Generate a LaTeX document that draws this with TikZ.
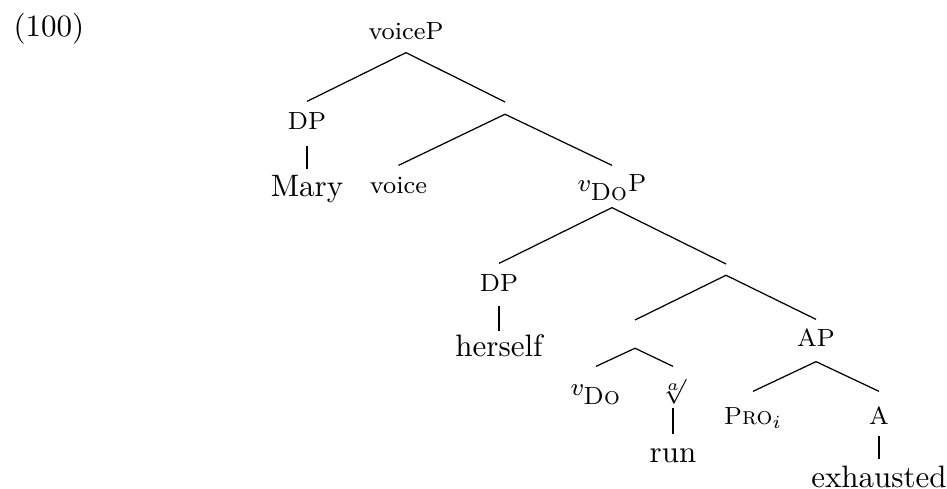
\documentclass[tikz,border=0pt]{standalone}
\begin{document}
\begin{tikzpicture}[x=0.3226pt,y=-0.3226pt,
  lab/.style={font=\footnotesize, anchor=base, inner sep=0pt, text height=9.03pt, text depth=4.52pt},
  word/.style={anchor=base, inner sep=0pt, text height=8.71pt, text depth=0pt},
  barnode/.style={anchor=north, inner sep=0pt, minimum width=0pt},
  edge/.style={line width=0.4pt}]
\useasboundingbox (0,0) rectangle (947,489);
\node[anchor=base west, inner sep=0pt] (ex) at (13,37) {(100)};
% nodes
\node[lab, text depth=3.87pt] (voiceP) at (406,40) {voiceP};
\node[lab, text depth=4.84pt] (dp1) at (307,130) {DP};
\node[word] (mary) at (307,197) {Mary};
\node[barnode, minimum height=3.55pt] (b1) at (505,102) {};
\node[lab] (voice) at (398.5,194) {voice};
\node[lab, text height=8.39pt, text depth=4.84pt] (vdop) at (612,192) {$v_{\textsc{Do}}$P};
\node[lab, text depth=4.19pt] (dp2) at (499,292) {DP};
\node[word, text height=8.07pt] (herself) at (499,357) {herself};
\node[barnode, minimum height=3.23pt] (b2) at (726,264) {};
\node[barnode, minimum height=8.71pt] (b3) at (635,320) {};
\node[lab, text height=8.71pt] (ap) at (816,347) {AP};
\node[lab, text height=9.36pt] (vdo) at (596,396) {$v_{\textsc{Do}}$};
\node[lab, text height=8.39pt, text depth=4.52pt] (root) at (673,393) {$\sqrt[a]{}$};
\node[word] (run) at (673,462) {run};
\node[lab, text height=10.65pt] (pro) at (753,425) {\textsc{Pro}$_i$};
\node[lab, text height=10.65pt, text depth=3.23pt] (a) at (879,425) {A};
\node[word] (exh) at (879,487) {exhausted};
% edges
\draw[edge] (voiceP.south) -- (dp1.north);
\draw[edge] (voiceP.south) -- (b1.north);
\draw[edge] (dp1.south) -- (mary.north);
\draw[edge] (b1.south) -- (voice.north);
\draw[edge] (b1.south) -- (vdop.north);
\draw[edge] (vdop.south) -- (dp2.north);
\draw[edge] (vdop.south) -- (b2.north);
\draw[edge] (dp2.south) -- (herself.north);
\draw[edge] (b2.south) -- (b3.north);
\draw[edge] (b2.south) -- (ap.north);
\draw[edge] (b3.south) -- (vdo.north);
\draw[edge] (b3.south) -- (root.north);
\draw[edge] (root.south) -- (run.north);
\draw[edge] (ap.south) -- (pro.north);
\draw[edge] (ap.south) -- (a.north);
\draw[edge] (a.south) -- (exh.north);
\end{tikzpicture}
\end{document}
